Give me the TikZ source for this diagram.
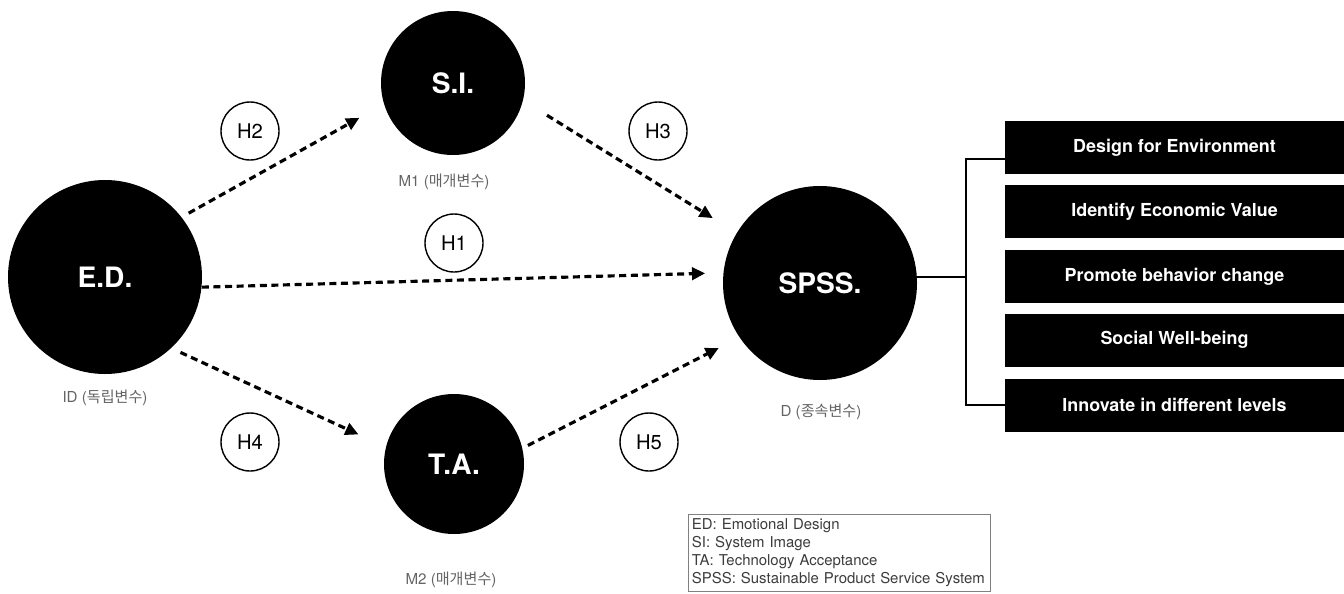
\documentclass[tikz,border=0pt]{standalone}
\usepackage{fontspec}
\setmainfont{TeX Gyre Heros}
\newfontfamily\krfont{Noto Sans CJK KR}
\usetikzlibrary{arrows.meta}

\definecolor{labelgray}{RGB}{100,100,100}
\definecolor{legendgray}{RGB}{60,60,60}

\tikzset{
  bigvar/.style={circle, fill=black, text=white, inner sep=0pt, font=\bfseries\fontsize{16}{18}\selectfont},
  hypo/.style={circle, draw, line width=0.8pt, minimum size=1.16cm, inner sep=0pt, font=\fontsize{11.5}{13}\selectfont},
  varlabel/.style={text=labelgray, font=\fontsize{8.6}{10}\selectfont},
  factorbox/.style={fill=black, text=white, minimum width=6.78cm, minimum height=1.06cm, inner sep=0pt, font=\bfseries\fontsize{10.2}{12}\selectfont},
  effect/.style={line width=1.8pt, dash pattern=on 4pt off 2.6pt, -{Triangle[length=7.5pt,width=7pt]}},
}

\begin{document}
\begin{tikzpicture}
  \useasboundingbox (0,0) rectangle (26.88,-11.86);

  % Variables (circles)
  \node[bigvar, minimum size=3.88cm] (ed) at (2.1,-5.54) {E.D.};
  \node[bigvar, minimum size=2.88cm] (si) at (9.06,-1.66) {S.I.};
  \node[bigvar, minimum size=2.8cm] (ta) at (9.08,-9.28) {T.A.};

  % Variable roles
  \node[varlabel] (edrole) at (2.1,-7.96) {ID ({\krfont 독립변수})};
  \node[varlabel] (sirole) at (8.88,-3.64) {M1 ({\krfont 매개변수})};
  \node[varlabel] (tarole) at (9.02,-11.6) {M2 ({\krfont 매개변수})};
  \node[varlabel] (spssrole) at (16.42,-8.24) {D ({\krfont 종속변수})};

  % Hypotheses
  \node[hypo] (h1) at (9.08,-4.86) {H1};
  \node[hypo] (h2) at (5.0,-2.62) {H2};
  \node[hypo] (h3) at (13.16,-2.62) {H3};
  \node[hypo] (h4) at (5.0,-8.84) {H4};
  \node[hypo] (h5) at (12.98,-8.84) {H5};

  % Factors of the dependent variable
  \node[factorbox] (dfe) at (23.49,-2.95) {Design for Environment};
  \node[factorbox] (iev) at (23.49,-4.23) {Identify Economic Value};
  \node[factorbox] (pbc) at (23.49,-5.53) {Promote behavior change};
  \node[factorbox] (swb) at (23.49,-6.8) {Social Well-being};
  \node[factorbox] (idl) at (23.49,-8.1) {Innovate in different levels};

  % Bracket to the factors
  \coordinate (brk) at (19.32,-5.54);
  \draw[line width=0.8pt] (16.4,-5.54) -- (brk);
  \draw[line width=0.8pt] ([yshift=-0.23cm]dfe.west) -| (brk) |- (idl.west);

  \node[bigvar, minimum size=3.88cm] (spss) at (16.4,-5.66) {SPSS.};

  % Paths
  \draw[effect, shorten <=0.16cm, shorten >=0.56cm] (ed.38) -- (si.197);
  \draw[effect, shorten <=0.56cm, shorten >=0.56cm] (si.-14.5) -- (spss.149);
  \draw[effect, shorten >=0.36cm] (ed.-6.4) -- (spss.174.5);
  \draw[effect, shorten <=0.2cm, shorten >=0.6cm] (ed.-47) -- (ta.166);
  \draw[effect, shorten <=0.12cm, shorten >=0.46cm] (ta.13) -- (spss.214);

  % Legend
  \node[draw=gray, line width=0.5pt, anchor=north west, text width=5.9cm, inner xsep=2pt, inner ysep=2.5pt, align=left, text=legendgray, font=\fontsize{8.5}{10.2}\selectfont] (legend) at (13.76,-10.28) {ED: Emotional Design\\SI: System Image\\TA: Technology Acceptance\\SPSS: Sustainable Product Service System};
\end{tikzpicture}
\end{document}
